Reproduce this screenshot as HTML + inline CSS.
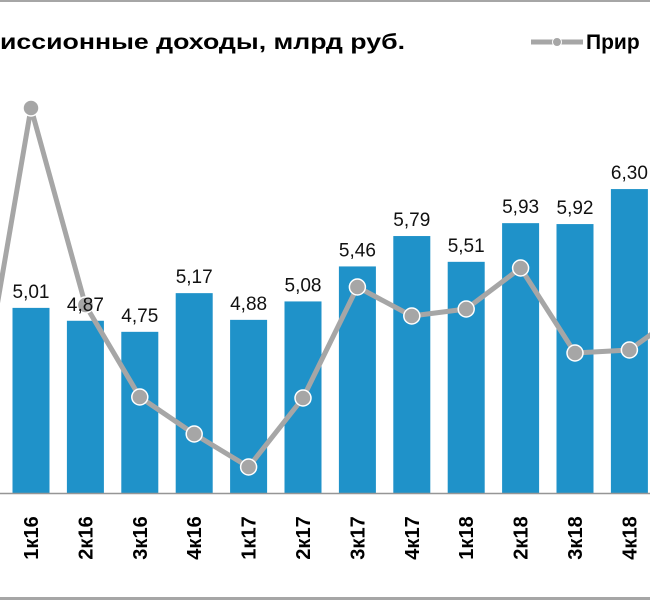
<!DOCTYPE html>
<html><head><meta charset="utf-8"><style>
body{margin:0;background:#fff;}
svg{display:block;font-family:"Liberation Sans",sans-serif;}
</style></head><body>
<svg id="chart" width="650" height="600">
<rect x="0" y="0" width="650" height="2" fill="#a6a6a6"/>
<rect x="0" y="597" width="650" height="3" fill="#a6a6a6"/>
<text x="0" y="49" font-size="21" font-weight="bold" fill="#000" textLength="405" lengthAdjust="spacingAndGlyphs">иссионные доходы, млрд руб.</text>
<g>
<line x1="531" y1="42" x2="583" y2="42" stroke="#a6a6a6" stroke-width="5"/>
<circle cx="557" cy="42" r="4.5" fill="#a6a6a6" stroke="#fff" stroke-width="1"/>
<text x="586" y="49" font-size="21" font-weight="bold" fill="#000">Прир</text>
</g>
<g id="bars"></g><g id="line"></g><g id="labels"></g><g id="ticks"></g>
<line x1="0" y1="493.5" x2="650" y2="493.5" stroke="#969696" stroke-width="1.5"/>
</svg>
<script>
const categories=["1к16","2к16","3к16","4к16","1к17","2к17","3к17","4к17","1к18","2к18","3к18","4к18"];
const income=[5.01,4.87,4.75,5.17,4.88,5.08,5.46,5.79,5.51,5.93,5.92,6.30];
const growth=[39.2,19.5,10.3,6.6,3.3,10.2,21.3,18.4,19.1,23.2,14.7,15.0];
const growthPrev=7.5;
const growthNext=18.9;
const NS="http://www.w3.org/2000/svg";
const xC=i=>31+i*54.4;
const yB=v=>493-(v-3)*92.1;
const yL=v=>500-v*10;
function mk(t,a,p){const e=document.createElementNS(NS,t);for(const k in a)e.setAttribute(k,a[k]);document.getElementById(p).appendChild(e);return e;}
categories.forEach((c,i)=>{
 const r=mk("rect",{x:xC(i)-18.5,y:yB(income[i]),width:37,height:493-yB(income[i]),fill:"#1f92c9"},"bars");
 
 
 const t=mk("text",{x:xC(i),y:yB(income[i])-10,"text-anchor":"middle","font-size":"19",fill:"#111"},"labels");
 t.textContent=income[i].toFixed(2).replace(".",",");
 
 
 const k=mk("text",{transform:`translate(${xC(i)+7},538) rotate(-90)`,"text-anchor":"middle","font-size":"20","font-weight":"bold",fill:"#000"},"ticks");
 k.textContent=c;
 
 
});
const pts=[[xC(-1),yL(growthPrev)]].concat(growth.map((v,i)=>[xC(i),yL(v)])).concat([[xC(12),yL(growthNext)]]);
const pl=mk("polyline",{points:pts.map(p=>p.join(",")).join(" "),fill:"none",stroke:"#a6a6a6","stroke-width":"5","stroke-linejoin":"round"},"line");


growth.forEach((v,i)=>{
 const c=mk("circle",{cx:xC(i),cy:yL(v),r:8,fill:"#a6a6a6",stroke:"#fff","stroke-width":"1.5"},"line");
 
 
});
</script>
</body></html>
